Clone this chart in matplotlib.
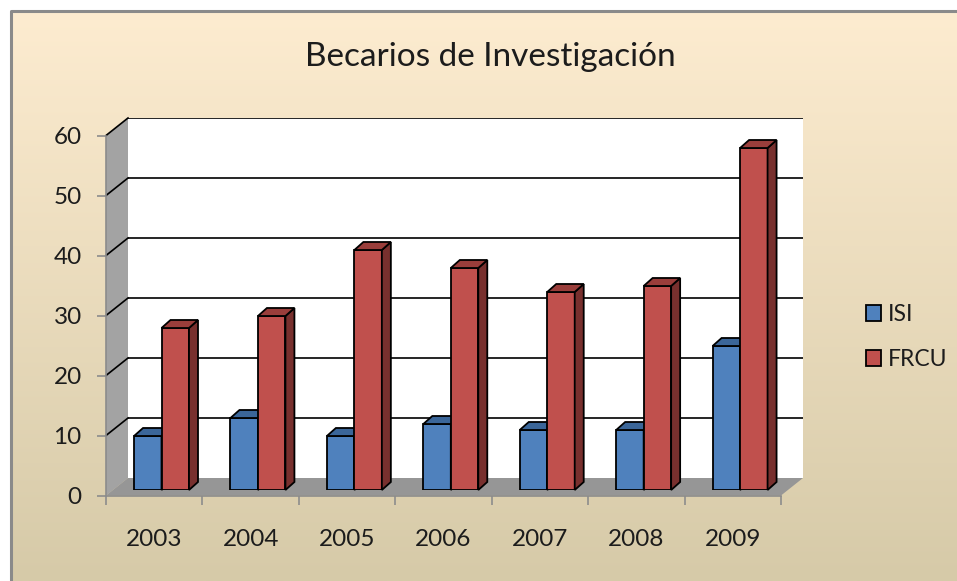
import numpy as np
import matplotlib
matplotlib.use("Agg")
import matplotlib.pyplot as plt
from matplotlib.patches import Polygon, Patch
from matplotlib.lines import Line2D
from matplotlib.transforms import IdentityTransform

anios = ["2003", "2004", "2005", "2006", "2007", "2008", "2009"]
isi = [9, 12, 9, 11, 10, 10, 24]
frcu = [27, 29, 40, 37, 33, 34, 57]
series = [("ISI", isi, "#4F81BD", "#3B6699", "#2E5079"),
          ("FRCU", frcu, "#C0504D", "#9A3E3B", "#78302E")]

plt.rcParams['font.family'] = ['Lato', 'DejaVu Sans']
tinta = "#1c1c1c"

W, H = 957, 581
fig = plt.figure(figsize=(W / 100, H / 100), dpi=100)


def rect(left, top, right, bottom):
    return [left / W, 1 - bottom / H, (right - left) / W, (bottom - top) / H]


# fondo con degradado
fondo = fig.add_axes([0, 0, 1, 1])
fondo.set_xlim(0, W)
fondo.set_ylim(H, 0)
fondo.axis("off")
grad = np.linspace(0, 1, 256)[:, None]
c_arriba = np.array([253, 236, 208]) / 255
c_abajo = np.array([214, 202, 168]) / 255
img = c_arriba + (c_abajo - c_arriba) * grad[:, :, None]
fondo.imshow(img, extent=(11, W, H, 12), aspect="auto")
fondo.plot([10.5, 10.5, W], [H, 11, 11], color="#8a8a8a", lw=2.2, solid_capstyle="butt")
fondo.set_zorder(0)

# pared del fondo
ax_back = fig.add_axes(rect(128, 118, 803, 478))
ax_back.set_zorder(1)
ax_back.set_facecolor("white")
ax_back.set_xlim(-0.5, len(anios) - 0.5)
ax_back.set_ylim(0, 60)
ax_back.set_yticks(range(10, 61, 10))
ax_back.set_xticks([])
ax_back.tick_params(left=False, labelleft=False)
ax_back.yaxis.grid(True, color="black", lw=1.2)
for s in ax_back.spines.values():
    s.set_visible(False)

# plano de las barras
ax = fig.add_axes(rect(113.3, 130, 788.3, 490))
ax.set_zorder(2)
ax.patch.set_alpha(0)
ax.set_xlim(-0.5, len(anios) - 0.5)
ax.set_ylim(0, 60)
ax.axis("off")

# eje frontal
ax_front = fig.add_axes(rect(106, 135.5, 781, 495.5))
ax_front.set_zorder(3)
ax_front.patch.set_alpha(0)
ax_front.set_xlim(-0.5, len(anios) - 0.5)
ax_front.set_ylim(0, 60)
for lado in ["top", "right"]:
    ax_front.spines[lado].set_visible(False)
for lado in ["left", "bottom"]:
    ax_front.spines[lado].set_color("#8c8c8c")
    ax_front.spines[lado].set_linewidth(1.2)
ax_front.set_yticks(range(0, 61, 10))
ax_front.set_xticks(np.arange(-0.5, len(anios)))
ax_front.set_xticklabels([])
ax_front.set_xticks(range(len(anios)), minor=True)
ax_front.set_xticklabels(anios, minor=True)
ax_front.tick_params(axis="y", length=6.5, width=1.2, color="#8c8c8c", pad=11,
                     labelsize=17.5, labelcolor=tinta)
ax_front.tick_params(axis="x", which="major", length=6.5, width=1.2, color="#8c8c8c")
ax_front.tick_params(axis="x", which="minor", length=0, pad=24,
                     labelsize=17.5, labelcolor=tinta)

fig.canvas.draw()
tb = ax_back.transData
tf = ax_front.transData
x0, x1 = -0.5, len(anios) - 0.5

# pared izquierda y piso
pared = [tf.transform((x0, 0)), tf.transform((x0, 60)), tb.transform((x0, 60)), tb.transform((x0, 0))]
ax_back.add_patch(Polygon(pared, closed=True, transform=IdentityTransform(),
                          facecolor="#a3a3a3", edgecolor="none", clip_on=False))
piso = [tf.transform((x0, 0)), tf.transform((x1, 0)), tb.transform((x1, 0)), tb.transform((x0, 0))]
ax_back.add_patch(Polygon(piso, closed=True, transform=IdentityTransform(),
                          facecolor="#969696", edgecolor="none", clip_on=False))
for v in range(10, 61, 10):
    a = tf.transform((x0, v))
    b = tb.transform((x0, v))
    ax_back.add_line(Line2D([a[0], b[0]], [a[1], b[1]], transform=IdentityTransform(),
                            color="black", lw=1.2, clip_on=False))

# barras con efecto 3D
ancho = 0.285
dx, dy = 9, 8
x = np.arange(len(anios))
z = 2
for i, (nombre, valores, c_frente, c_tope, c_lado) in enumerate(series):
    pos = x + (i - 0.5) * ancho
    barras = ax.bar(pos, valores, width=ancho, color=c_frente, edgecolor="black",
                    linewidth=1.3, zorder=z, label=nombre)
    for r in barras:
        bx, by, bw, bh = r.get_x(), r.get_y(), r.get_width(), r.get_height()
        p1 = ax.transData.transform((bx, by + bh))
        p2 = ax.transData.transform((bx + bw, by + bh))
        p3 = ax.transData.transform((bx + bw, by))
        tope = [p1, p2, p2 + (dx, dy), p1 + (dx, dy)]
        lado = [p3, p2, p2 + (dx, dy), p3 + (dx, dy)]
        ax.add_patch(Polygon(lado, closed=True, transform=IdentityTransform(),
                             facecolor=c_lado, edgecolor="black", lw=1.3,
                             zorder=z + 0.1, clip_on=False))
        ax.add_patch(Polygon(tope, closed=True, transform=IdentityTransform(),
                             facecolor=c_tope, edgecolor="black", lw=1.3,
                             zorder=z + 0.1, clip_on=False))
    z += 1

fig.text(490 / W, 1 - 57 / H, "Becarios de Investigación", ha="center", va="center",
         fontsize=24, color=tinta)

manejadores = [Patch(facecolor=s[2], edgecolor="black", lw=1.3, label=s[0]) for s in series]
fig.legend(handles=manejadores, loc="upper left", bbox_to_anchor=(857 / W, 1 - 295 / H),
           frameon=False, fontsize=16.5, handlelength=0.65, handleheight=0.7,
           handletextpad=0.3, labelspacing=1.05, borderaxespad=0, labelcolor=tinta)

fig.savefig("out.png", dpi=100)
